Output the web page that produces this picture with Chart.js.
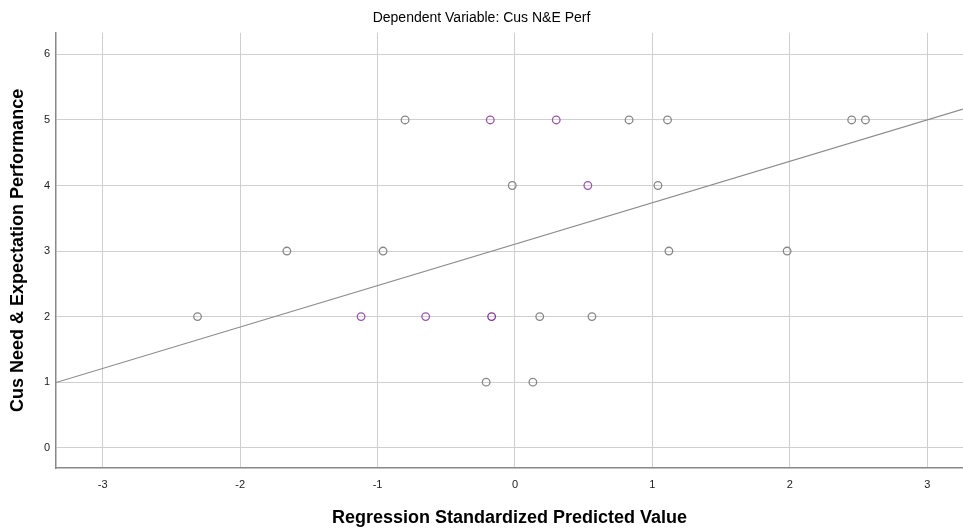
<!DOCTYPE html>
<html>
<head>
<meta charset="utf-8">
<script src="https://cdn.jsdelivr.net/npm/chart.js@4/dist/chart.umd.min.js"></script>
<style>
  html, body { margin: 0; padding: 0; background: #fff; }
  #wrap { width: 963px; height: 531px; }
</style>
</head>
<body>
<div id="wrap"><canvas id="scatterChart"></canvas></div>
<script>
// SCATTER: Cus N&E Perf vs standardized predicted value

const predicted = [
  -0.80, -0.18, 0.30, 0.83, 1.11, 2.45, 2.55,
  -0.02, 0.53, 1.04,
  -1.66, -0.96, 1.12, 1.98,
  -2.31, -1.12, -0.65, -0.17, 0.18, 0.56,
  -0.21, 0.13,
];
const performance = [
  5, 5, 5, 5, 5, 5, 5,
  4, 4, 4,
  3, 3, 3, 3,
  2, 2, 2, 2, 2, 2,
  1, 1,
];
// how many cases sit on each marker
const caseCount = [
  1, 2, 2, 1, 1, 1, 1,
  1, 2, 1,
  1, 1, 1, 1,
  1, 2, 2, 3, 1, 1,
  1, 1,
];
const xTicks = [-3, -2, -1, 0, 1, 2, 3];
const yTicks = [0, 1, 2, 3, 4, 5, 6];
const fitIntercept = 3.105;
const fitSlope = 0.632;

const xMin = -3.34;
const xMax = 3.26;

const points = predicted.map((x, i) => ({ x: x, y: performance[i] }));
const markerColor = (n) =>
  n >= 3 ? "rgb(130, 50, 150)" : n === 2 ? "rgb(155, 85, 170)" : "rgb(135, 135, 135)";

const font = "'Liberation Sans', Arial, sans-serif";

new Chart(document.getElementById("scatterChart"), {
  type: "scatter",
  data: {
    datasets: [
      {
        label: "Cases",
        data: points,
        pointRadius: 3.8,
        pointHoverRadius: 3.8,
        pointBorderWidth: 1.3,
        pointBackgroundColor: "rgba(0,0,0,0)",
        pointBorderColor: caseCount.map(markerColor),
        order: 1,
      },
      {
        label: "Fit",
        type: "line",
        data: [
          { x: xMin, y: fitIntercept + fitSlope * xMin },
          { x: xMax, y: fitIntercept + fitSlope * xMax },
        ],
        borderColor: "rgb(140, 140, 140)",
        borderWidth: 1.2,
        pointRadius: 0,
        fill: false,
        order: 2,
      },
    ],
  },
  options: {
    responsive: true,
    maintainAspectRatio: false,
    animation: false,
    layout: { padding: 0, autoPadding: false },
    plugins: {
      legend: { display: false },
      tooltip: { enabled: false },
      title: {
        display: true,
        text: "Dependent Variable: Cus N&E Perf",
        color: "#000",
        font: { family: font, size: 14, weight: "normal" },
        padding: { top: 10, bottom: 6 },
      },
    },
    scales: {
      x: {
        type: "linear",
        min: xMin,
        max: xMax,
        afterBuildTicks: (scale) => {
          scale.ticks = xTicks.map((v) => ({ value: v }));
        },
        afterFit: (scale) => {
          scale.height = 63;
        },
        ticks: {
          color: "#222",
          font: { family: font, size: 11 },
          padding: 10,
          includeBounds: false,
        },
        grid: { color: "#cfcfcf", lineWidth: 1, drawTicks: false },
        border: { color: "#888", width: 1.5 },
        title: {
          display: true,
          text: "Regression Standardized Predicted Value",
          color: "#000",
          font: { family: font, size: 18, weight: "bold" },
          padding: { top: 10, bottom: 2 },
        },
      },
      y: {
        type: "linear",
        min: -0.31,
        max: 6.33,
        afterBuildTicks: (scale) => {
          scale.ticks = yTicks.map((v) => ({ value: v }));
        },
        afterFit: (scale) => {
          scale.width = 56;
        },
        ticks: {
          color: "#222",
          font: { family: font, size: 11 },
          padding: 6,
          includeBounds: false,
        },
        grid: { color: "#cfcfcf", lineWidth: 1, drawTicks: false },
        border: { color: "#888", width: 1.5 },
        title: {
          display: true,
          text: "Cus Need & Expectation Performance",
          color: "#000",
          font: { family: font, size: 18, weight: "bold" },
          padding: { top: 7, bottom: 0 },
        },
      },
    },
  },
});
</script>
</body>
</html>
